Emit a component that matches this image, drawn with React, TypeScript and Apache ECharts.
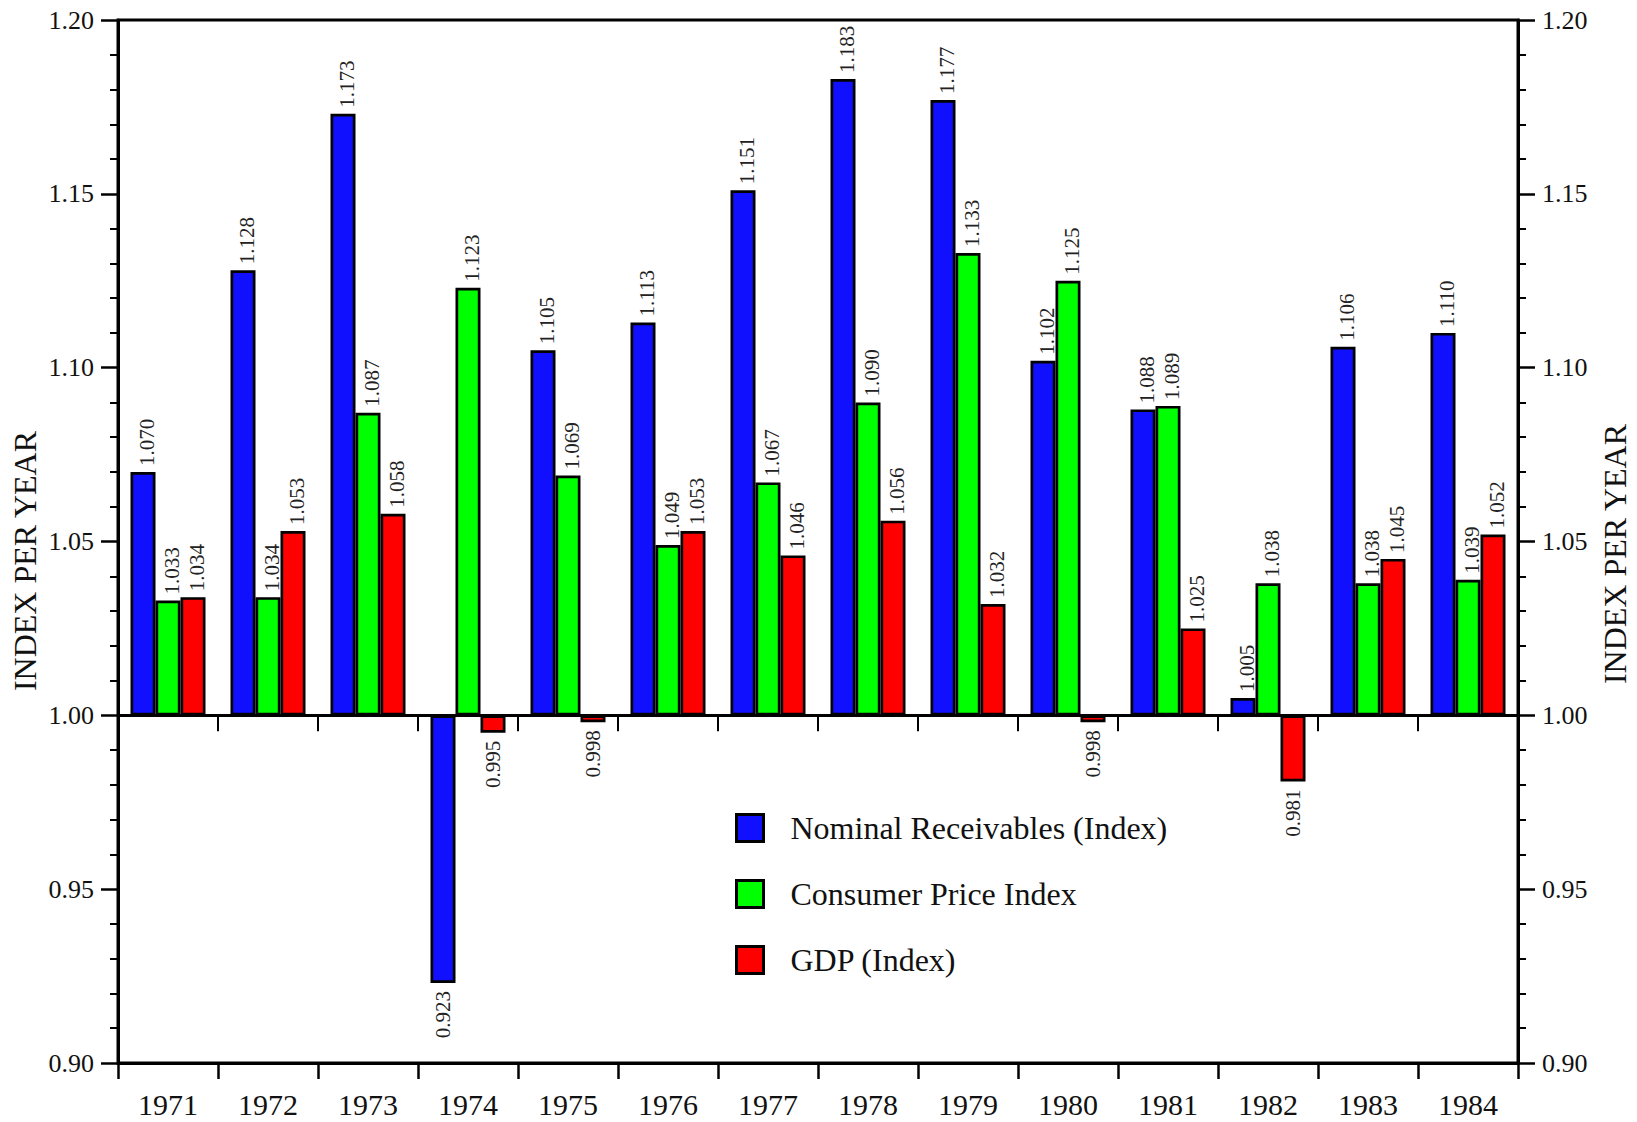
import React, { useEffect, useRef } from "react";
import * as echarts from "echarts";

const years = ["1971", "1972", "1973", "1974", "1975", "1976", "1977", "1978", "1979", "1980", "1981", "1982", "1983", "1984"];
const nominalReceivables = [1.070, 1.128, 1.173, 0.923, 1.105, 1.113, 1.151, 1.183, 1.177, 1.102, 1.088, 1.005, 1.106, 1.110];
const consumerPriceIndex = [1.033, 1.034, 1.087, 1.123, 1.069, 1.049, 1.067, 1.090, 1.133, 1.125, 1.089, 1.038, 1.038, 1.039];
const gdpIndex = [1.034, 1.053, 1.058, 0.995, 0.998, 1.053, 1.046, 1.056, 1.032, 0.998, 1.025, 0.981, 1.045, 1.052];
const seriesNames = ["Nominal Receivables (Index)", "Consumer Price Index", "GDP (Index)"];
const seriesColors = ["#1010ff", "#00ff00", "#ff0000"];
const BASE = 1.0;
const Y_MIN = 0.9;
const Y_MAX = 1.2;
const Y_STEP = 0.05;

const FONT = "'Liberation Serif', 'Times New Roman', serif";

function makeSeries(name: string, values: number[], color: string) {
  return {
    name,
    type: "bar",
    xAxisIndex: 0,
    yAxisIndex: 0,
    barWidth: 25,
    barGap: "0%",
    itemStyle: { color, borderColor: "#000", borderWidth: 2.7 },
    label: {
      show: true,
      position: "top",
      rotate: 90,
      align: "left",
      verticalAlign: "middle",
      distance: 6,
      offset: [0, 4],
      fontFamily: FONT,
      fontSize: 21,
      color: "#222",
      formatter: (p: any) => (p.value + BASE).toFixed(3),
    },
    data: values.map((v) =>
      v < BASE
        ? { value: v - BASE, label: { position: "bottom", align: "right", distance: 8, offset: [0, 0] } }
        : { value: v - BASE }
    ),
  };
}

export default function App() {
  const ref = useRef<HTMLDivElement>(null);
  useEffect(() => {
    if (!ref.current) return;
    const chart = echarts.init(ref.current, undefined, { renderer: "svg" });
    const yAxisCommon = {
      type: "value",
      min: Y_MIN - BASE,
      max: Y_MAX - BASE,
      interval: Y_STEP,
      splitLine: { show: false },
      axisLine: { show: true, onZero: false, lineStyle: { color: "#000", width: 3 } },
      axisTick: { show: true, length: 17, lineStyle: { color: "#000", width: 2.5 } },
      minorTick: { show: true, splitNumber: 5, length: 8, lineStyle: { color: "#000", width: 2 } },
      axisLabel: {
        fontFamily: FONT,
        fontSize: 26,
        color: "#111",
        margin: 24,
        formatter: (v: number) => (v + BASE).toFixed(2),
      },
    };
    chart.setOption({
      animation: false,
      backgroundColor: "#fff",
      grid: {
        left: 118,
        right: 119,
        top: 20,
        bottom: 59,
        show: true,
        borderColor: "#000",
        borderWidth: 3,
        backgroundColor: "transparent",
      },
      legend: {
        show: true,
        orient: "vertical",
        left: 730,
        top: 807,
        icon: "rect",
        itemWidth: 27,
        itemHeight: 27,
        itemGap: 34,
        itemStyle: { borderColor: "#000", borderWidth: 3 },
        textStyle: {
          fontFamily: FONT,
          fontSize: 32,
          color: "#111",
          lineHeight: 30,
          padding: [0, 0, 0, 22],
        },
        data: seriesNames,
      },
      xAxis: [
        {
          type: "category",
          data: years,
          position: "bottom",
          axisLine: { show: true, onZero: false, lineStyle: { color: "#000", width: 3 } },
          axisTick: { show: true, length: 16, lineStyle: { color: "#000", width: 2.5 } },
          axisLabel: { fontFamily: FONT, fontSize: 30, color: "#111", margin: 26 },
          splitLine: { show: false },
        },
        {
          type: "category",
          data: years,
          position: "bottom",
          z: 5,
          axisLine: { show: true, onZero: true, lineStyle: { color: "#000", width: 3 } },
          axisTick: { show: true, length: 16, lineStyle: { color: "#000", width: 2 } },
          axisLabel: { show: false },
          splitLine: { show: false },
        },
      ],
      yAxis: [
        { ...yAxisCommon, position: "left" },
        { ...yAxisCommon, position: "right" },
      ],
      graphic: [
        {
          type: "text",
          x: 25,
          y: 561,
          rotation: Math.PI / 2,
          style: {
            text: "INDEX PER YEAR",
            fontFamily: FONT,
            fontSize: 32,
            fill: "#111",
            textAlign: "center",
            textVerticalAlign: "middle",
          },
        },
        {
          type: "text",
          x: 1615,
          y: 554,
          rotation: Math.PI / 2,
          style: {
            text: "INDEX PER YEAR",
            fontFamily: FONT,
            fontSize: 32,
            fill: "#111",
            textAlign: "center",
            textVerticalAlign: "middle",
          },
        },
      ],
      series: [
        makeSeries(seriesNames[0], nominalReceivables, seriesColors[0]),
        makeSeries(seriesNames[1], consumerPriceIndex, seriesColors[1]),
        makeSeries(seriesNames[2], gdpIndex, seriesColors[2]),
      ],
    });
    return () => chart.dispose();
  }, []);
  return (
    <div
      ref={ref}
      style={{ position: "fixed", left: 0, top: 0, width: 1637, height: 1122 }}
    />
  );
}
